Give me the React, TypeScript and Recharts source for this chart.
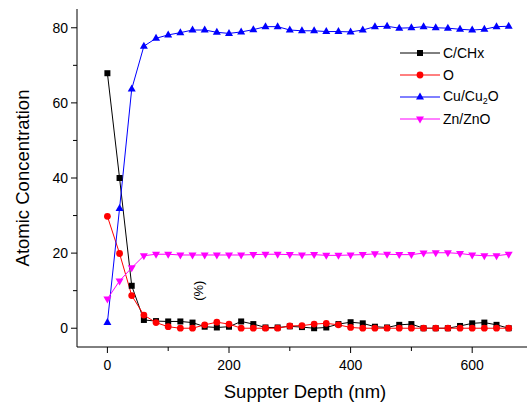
import { LineChart, Line, XAxis, YAxis, Legend, ReferenceDot } from "recharts";

const FONT = '"Liberation Sans", Arial, sans-serif';

const depth = [
  0, 20, 40, 60, 80, 100, 120, 140, 160, 180, 200, 220, 240, 260, 280, 300, 320,
  340, 360, 380, 400, 420, 440, 460, 480, 500, 520, 540, 560, 580, 600, 620, 640, 660,
];
const cChx = [
  67.9, 40.0, 11.3, 2.2, 1.9, 1.8, 1.8, 1.5, 0.4, 0.2, 0.4, 1.8, 1.1, 0.2, 0.2, 0.5, 0.3,
  0.0, 0.2, 1.1, 1.6, 1.3, 0.4, 0.2, 0.9, 1.1, 0.0, 0.0, 0.0, 0.6, 1.3, 1.5, 0.9, 0.0,
];
const oxygen = [
  29.8, 19.9, 8.7, 3.5, 1.5, 0.4, 0.0, 0.0, 0.9, 1.6, 1.1, 0.0, 0.0, 0.0, 0.0, 0.6, 0.7,
  1.1, 1.3, 0.9, 0.2, 0.0, 0.0, 0.0, 0.0, 0.0, 0.0, 0.0, 0.0, 0.0, 0.0, 0.0, 0.0, 0.0,
];
const cuCu2o = [
  1.5, 31.9, 63.7, 75.1, 77.2, 78.1, 78.7, 79.4, 79.4, 78.8, 78.5, 78.9, 79.5, 80.3, 80.3, 79.4, 79.2,
  79.2, 79.0, 79.0, 78.9, 79.4, 80.3, 80.4, 79.9, 80.0, 80.3, 80.0, 79.9, 79.6, 79.4, 79.6, 80.3, 80.4,
];
const znZno = [
  7.8, 12.6, 16.1, 19.3, 19.7, 19.7, 19.5, 19.5, 19.5, 19.5, 19.5, 19.5, 19.6, 19.7, 19.7, 19.6, 19.5,
  19.6, 19.4, 19.4, 19.5, 19.6, 19.8, 19.7, 19.6, 19.6, 20.0, 20.1, 20.1, 19.9, 19.5, 19.3, 19.3, 19.7,
];

const xTicks = [0, 100, 200, 300, 400, 500, 600, 700];
const yTicks = [0, 10, 20, 30, 40, 50, 60, 70, 80];
const topTicks = [1, 2, 3, 4, 5, 6, 7, 8, 9];

const data = depth.map((d, i) => ({
  depth: d,
  c: cChx[i],
  o: oxygen[i],
  cu: cuCu2o[i],
  zn: znZno[i],
}));

type Shape = "square" | "circle" | "up" | "down";

const series: { key: string; label: React.ReactNode; color: string; shape: Shape }[] = [
  { key: "c", label: "C/CHx", color: "#000000", shape: "square" },
  { key: "o", label: "O", color: "#ff0000", shape: "circle" },
  {
    key: "cu",
    label: (
      <>
        Cu/Cu<sub style={{ fontSize: 9, verticalAlign: "-3px" }}>2</sub>O
      </>
    ),
    color: "#0000ff",
    shape: "up",
  },
  { key: "zn", label: "Zn/ZnO", color: "#ff00ff", shape: "down" },
];

function Marker({ shape, cx, cy, color }: { shape: Shape; cx?: number; cy?: number; color: string }) {
  if (cx == null || cy == null) return null;
  if (shape === "square") return <rect x={cx - 3} y={cy - 3} width={6} height={6} fill={color} />;
  if (shape === "circle") return <circle cx={cx} cy={cy} r={3.4} fill={color} />;
  if (shape === "up")
    return <polygon points={`${cx},${cy - 4.5} ${cx + 4},${cy + 2.5} ${cx - 4},${cy + 2.5}`} fill={color} />;
  return <polygon points={`${cx},${cy + 4.5} ${cx + 4},${cy - 2.5} ${cx - 4},${cy - 2.5}`} fill={color} />;
}

const BottomTick = (props: any) => {
  const { x, y, payload } = props;
  const v = payload.value;
  const major = v % 200 === 0;
  return (
    <g>
      <line x1={x} y1={y} x2={x} y2={y + (major ? 6 : 4)} stroke="#000" />
      {major && (
        <text x={x} y={y + 22.5} textAnchor="middle" fontSize={14} fill="#000">
          {v}
        </text>
      )}
    </g>
  );
};

const TopTick = (props: any) => {
  const { x, y, payload } = props;
  const major = payload.value % 2 === 0;
  return <line x1={x} y1={y} x2={x} y2={y + (major ? 6 : 4)} stroke="#000" />;
};

const LeftTick = (props: any) => {
  const { x, y, payload } = props;
  const v = payload.value;
  const major = v % 20 === 0;
  return (
    <g>
      <line x1={x - (major ? 6 : 4)} y1={y} x2={x} y2={y} stroke="#000" />
      {major && (
        <text x={x - 9} y={y + 5} textAnchor="end" fontSize={14} fill="#000">
          {v}
        </text>
      )}
    </g>
  );
};

function LegendBox() {
  return (
    <div style={{ fontFamily: FONT, fontSize: 14, color: "#000" }}>
      {series.map((s) => (
        <div key={s.key} style={{ display: "flex", alignItems: "center", height: 22 }}>
          <svg width={42} height={22} style={{ display: "block" }}>
            <line x1={0} y1={11} x2={40} y2={11} stroke={s.color} strokeWidth={1} />
            <Marker shape={s.shape} cx={20} cy={11} color={s.color} />
          </svg>
          <span style={{ marginLeft: 1, whiteSpace: "nowrap" }}>{s.label}</span>
        </div>
      ))}
    </div>
  );
}

// rotated "(%)" note that sits inside the plot
const PercentNote = (p: any) => (
  <g transform={`translate(${p.cx} ${p.cy}) rotate(-90)`}>
    <text x={0} y={0} textAnchor="middle" dy={4} fontSize={13} fill="#000">
      (%)
    </text>
  </g>
);

export default function App() {
  return (
    <div style={{ width: 527, height: 407, overflow: "hidden", fontFamily: FONT }}>
      <style>{"html,body{margin:0;padding:0;overflow:hidden}"}</style>
      <LineChart width={533} height={407} data={data} margin={{ top: 9, right: 0, bottom: 0, left: 8 }}>
        <XAxis
          dataKey="depth"
          type="number"
          domain={[-50, 700]}
          ticks={xTicks}
          interval={0}
          height={60}
          tickSize={0}
          tickMargin={0}
          tickLine={false}
          tick={BottomTick}
          axisLine={{ stroke: "#000" }}
          label={{
            value: "Suppter Depth (nm)",
            position: "insideBottom",
            offset: 9,
            fontSize: 18.5,
            fill: "#000",
          }}
        />
        <XAxis
          xAxisId="top"
          orientation="top"
          type="number"
          domain={[0, 10]}
          ticks={topTicks}
          interval={0}
          height={0}
          tickSize={0}
          tickMargin={0}
          tickLine={false}
          tick={TopTick}
          axisLine={{ stroke: "#000" }}
        />
        <YAxis
          type="number"
          domain={[-5, 85]}
          ticks={yTicks}
          interval={0}
          width={69}
          tickSize={0}
          tickMargin={0}
          tickLine={false}
          tick={LeftTick}
          axisLine={{ stroke: "#000" }}
          label={{
            value: "Atomic Concentration",
            angle: -90,
            position: "insideLeft",
            offset: 14,
            fontSize: 18.5,
            fill: "#000",
            style: { textAnchor: "middle" },
          }}
        />
        <Legend
          layout="vertical"
          align="center"
          verticalAlign="middle"
          wrapperStyle={{ left: 400, top: 42 }}
          content={() => <LegendBox />}
        />
        {series.map((s) => (
          <Line
            key={s.key}
            dataKey={s.key}
            type="linear"
            stroke={s.color}
            strokeWidth={1}
            isAnimationActive={false}
            activeDot={false}
            dot={(p: any) => <Marker key={`${s.key}-${p.index}`} shape={s.shape} cx={p.cx} cy={p.cy} color={s.color} />}
          />
        ))}
        <ReferenceDot x={150} y={10} r={0} shape={PercentNote} />
      </LineChart>
    </div>
  );
}
